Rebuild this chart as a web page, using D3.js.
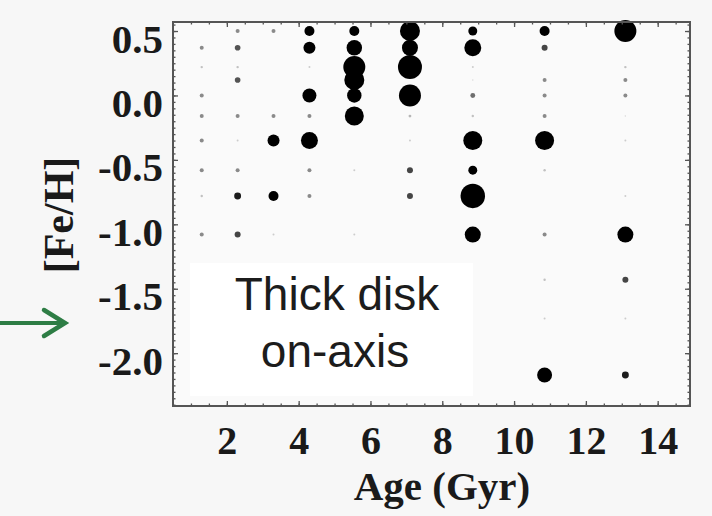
<!DOCTYPE html>
<html>
<head>
<meta charset="utf-8">
<script src="https://cdn.jsdelivr.net/npm/d3@7"></script>
<style>
  html, body { margin: 0; padding: 0; background: #f7f7f7; }
  svg { display: block; }
</style>
</head>
<body>
<svg id="chart" width="712" height="516"></svg>
<script>
// ---- data ----
const ages = [1.3, 2.3, 3.3, 4.3, 5.55, 7.1, 8.85, 10.85, 13.1];           // Gyr (age bins)
const feh  = [0.5, 0.37, 0.22, 0.12, 0.0, -0.16, -0.35, -0.58, -0.78, -1.08, -1.43, -1.73, -2.17]; // [Fe/H] bins
// relative weight of each (age, [Fe/H]) cell; one row per age bin, one value per [Fe/H] bin
const weights = [
  [0,   4,   1.5, 0,   4,   4,   4,   4,   1.5, 4,  0,   0,  0 ],  // 1.3
  [4,   8,   1.5, 8,   0,   4,   1,   4,   12,  9,  0,   0,  0 ],  // 2.3
  [4,   0,   0,   0,   0,   4,   36,  0,   25,  1,  0,   0,  0 ],  // 3.3
  [25,  36,  1,   0,   49,  4,   72,  4,   4,   0,  0,   0,  0 ],  // 4.3
  [25,  60,  121, 100, 52,  90,  0,   1,   0,   1,  0,   0,  0 ],  // 5.55
  [100, 64,  144, 0,   121, 2,   1,   9,   9,   0,  0,   0,  0 ],  // 7.1
  [20,  72,  1,   0.5, 6,   1.5, 90,  20,  150, 64, 0,   0,  0 ],  // 8.85
  [25,  9,   0,   4,   4,   4,   90,  1.5, 0,   4,  1.5, 1,  56],  // 10.85
  [121, 0,   1.5, 4,   4,   0.5, 1,   0,   1,   64, 9,   1,  12]   // 13.1
];
const xTicks = [2, 4, 6, 8, 10, 12, 14];
const yTicks = [0.5, 0.0, -0.5, -1.0, -1.5, -2.0];
const yTickLabels = ["0.5", "0.0", "-0.5", "-1.0", "-1.5", "-2.0"];
const xTitle = "Age (Gyr)";
const yTitle = "[Fe/H]";
const noteLines = ["Thick disk", "on-axis"];

// ---- layout ----
const pL = 173, pR = 690, pT = 22, pB = 406;
const svg = d3.select("#chart");

const x = d3.scaleLinear().domain([0.5, 14.9]).range([pL, pR]);
const y = d3.scaleLinear().domain([-2.41, 0.57]).range([pB, pT]);
const r = d3.scaleSqrt().domain([0, 144]).range([0, 12]);
const shade = d3.scaleLinear().domain([0, 4, 14]).range(["#e2e2e2", "#8a8a8a", "#000"]).clamp(true);

// plot background
svg.append("rect").attr("x", pL).attr("y", pT)
  .attr("width", pR - pL).attr("height", pB - pT).attr("fill", "#fafafa");

// white text box
svg.append("rect").attr("x", 190).attr("y", 263).attr("width", 283).attr("height", 133).attr("fill", "#ffffff");

// points
const pts = [];
ages.forEach((a, i) => feh.forEach((f, j) => {
  const w = weights[i][j];
  if (w > 0) pts.push({ age: a, feh: f, w: w });
}));
pts.sort((p, q) => p.w - q.w);
svg.append("g").selectAll("circle").data(pts).join("circle")
  .attr("cx", d => x(d.age)).attr("cy", d => y(d.feh))
  .attr("r", d => r(d.w)).attr("fill", d => shade(d.w));

// axes with inward ticks on all four sides
const axisColor = "#555";
const minorX = d3.range(1.0, 14.51, 0.5);
const minorY = d3.range(-2.4, 0.551, 0.05);

function styleAxis(g) {
  g.select(".domain").remove();
  g.selectAll(".tick line").attr("stroke", axisColor).attr("stroke-width", 1.3);
}

svg.append("g").attr("transform", `translate(0,${pB})`)
  .call(d3.axisBottom(x).tickValues(minorX).tickSize(-2.5).tickFormat("")).call(styleAxis);
svg.append("g").attr("transform", `translate(0,${pT})`)
  .call(d3.axisTop(x).tickValues(minorX).tickSize(-2.5).tickFormat("")).call(styleAxis);
svg.append("g").attr("transform", `translate(${pL},0)`)
  .call(d3.axisLeft(y).tickValues(minorY).tickSize(-2.5).tickFormat("")).call(styleAxis);
svg.append("g").attr("transform", `translate(${pR},0)`)
  .call(d3.axisRight(y).tickValues(minorY).tickSize(-2.5).tickFormat("")).call(styleAxis);

const xAxis = svg.append("g").attr("transform", `translate(0,${pB})`)
  .call(d3.axisBottom(x).tickValues(xTicks).tickSize(-5).tickPadding(0));
xAxis.call(styleAxis);
xAxis.selectAll("text").attr("y", 48).attr("dy", null)
  .attr("font-family", "'Liberation Serif', 'Times New Roman', serif")
  .attr("font-weight", "bold").attr("font-size", 40).attr("fill", "#1a1a1a");

svg.append("g").attr("transform", `translate(0,${pT})`)
  .call(d3.axisTop(x).tickValues(xTicks).tickSize(-5).tickFormat("")).call(styleAxis);
svg.append("g").attr("transform", `translate(${pR},0)`)
  .call(d3.axisRight(y).tickValues(yTicks).tickSize(-5).tickFormat("")).call(styleAxis);

const yAxis = svg.append("g").attr("transform", `translate(${pL},0)`)
  .call(d3.axisLeft(y).tickValues(yTicks).tickSize(-5).tickPadding(10)
    .tickFormat((d, i) => yTickLabels[i]));
yAxis.call(styleAxis);
yAxis.selectAll("text").attr("dy", 21)
  .attr("font-family", "'Liberation Serif', 'Times New Roman', serif")
  .attr("font-weight", "bold").attr("font-size", 41).attr("fill", "#1a1a1a");

// frame
svg.append("rect").attr("x", pL).attr("y", pT)
  .attr("width", pR - pL).attr("height", pB - pT)
  .attr("fill", "none").attr("stroke", axisColor).attr("stroke-width", 2);

// titles
svg.append("text").attr("x", 442).attr("y", 500).attr("text-anchor", "middle")
  .attr("font-family", "'Liberation Serif', 'Times New Roman', serif")
  .attr("font-weight", "bold").attr("font-size", 41).attr("fill", "#1a1a1a")
  .text(xTitle);
svg.append("text").attr("transform", "translate(73,215) rotate(-90)").attr("text-anchor", "middle")
  .attr("font-family", "'Liberation Serif', 'Times New Roman', serif")
  .attr("font-weight", "bold").attr("font-size", 42).attr("fill", "#1a1a1a")
  .text(yTitle);

// annotation
svg.append("text").attr("x", 337).attr("y", 310).attr("text-anchor", "middle")
  .attr("font-family", "'Liberation Sans', Arial, sans-serif").attr("font-size", 46).attr("fill", "#1c1c1c")
  .text(noteLines[0]);
svg.append("text").attr("x", 335).attr("y", 367).attr("text-anchor", "middle")
  .attr("font-family", "'Liberation Sans', Arial, sans-serif").attr("font-size", 46).attr("fill", "#1c1c1c")
  .text(noteLines[1]);

// green arrow
const arrowColor = "#2e7d45";
svg.append("line").attr("x1", 0).attr("y1", 323).attr("x2", 64).attr("y2", 323)
  .attr("stroke", arrowColor).attr("stroke-width", 4);
svg.append("path").attr("d", d3.line()([[44, 310], [65, 323], [44, 336]]))
  .attr("fill", "none").attr("stroke", arrowColor).attr("stroke-width", 4.5)
  .attr("stroke-linejoin", "miter").attr("stroke-linecap", "round");
</script>
</body>
</html>
